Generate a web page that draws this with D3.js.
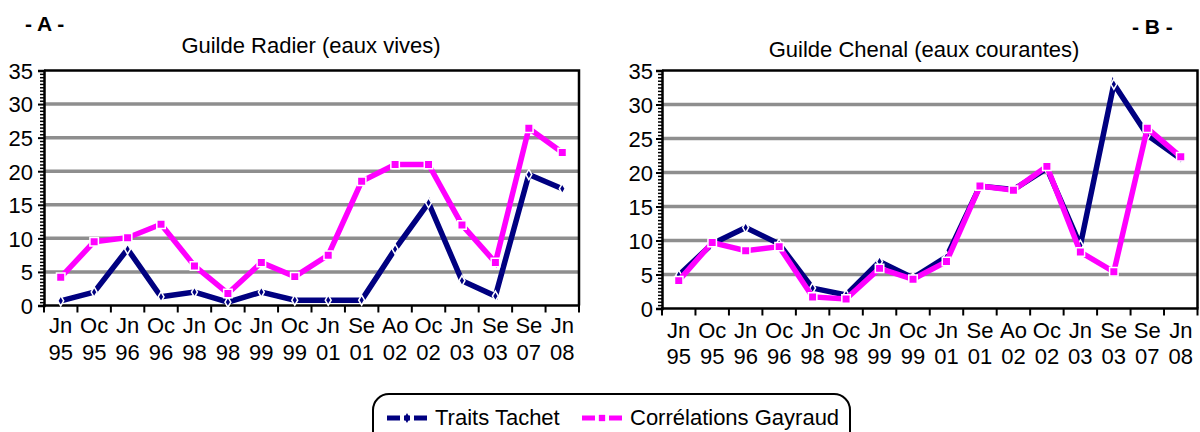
<!DOCTYPE html>
<html>
<head>
<meta charset="utf-8">
<script src="https://cdn.jsdelivr.net/npm/d3@7"></script>
<style>
  body { margin: 0; background: #fff; }
  svg text { font-family: "Liberation Sans", Arial, sans-serif; fill: #000; }
</style>
</head>
<body>
<div id="chart"></div>
<script>
// sampling dates (two-line labels: month / year)
const categories = ["Jn 95", "Oc 95", "Jn 96", "Oc 96", "Jn 98", "Oc 98", "Jn 99", "Oc 99",
                    "Jn 01", "Se 01", "Ao 02", "Oc 02", "Jn 03", "Se 03", "Se 07", "Jn 08"];

// panel A - Guilde Radier
const radierTachet  = [0.7, 2.0, 8.4, 1.3, 2.0, 0.5, 2.0, 0.8, 0.8, 0.8, 8.4, 15.3, 3.7, 1.4, 19.5, 17.4];
const radierGayraud = [4.2, 9.5, 10.1, 12.1, 5.9, 1.8, 6.4, 4.3, 7.5, 18.5, 21.0, 21.0, 12.0, 6.4, 26.4, 22.8];

// panel B - Guilde Chenal
const chenalTachet  = [4.9, 9.5, 11.9, 9.5, 3.0, 2.0, 6.9, 4.5, 7.6, 18.0, 17.5, 20.6, 9.3, 33.0, 25.5, 22.0];
const chenalGayraud = [4.1, 9.7, 8.5, 9.1, 1.7, 1.4, 5.9, 4.3, 6.9, 18.0, 17.4, 20.9, 8.3, 5.4, 26.5, 22.3];

const yTicks = [0, 5, 10, 15, 20, 25, 30, 35];
const seriesNames = ["Traits Tachet", "Corrélations Gayraud"];

const navy = "#000080";
const pink = "#ff00ff";

const svg = d3.select("#chart").append("svg")
    .attr("width", 1200)
    .attr("height", 432);

function drawPanel(cfg) {
    const x = d3.scaleBand().domain(categories).range([cfg.left, cfg.right]);
    const y = d3.scaleLinear().domain([0, 35]).range([cfg.bottom, cfg.top]);

    const g = svg.append("g");

    // gridlines
    g.selectAll(".grid")
        .data(yTicks.filter(d => d > 0 && d < 35))
        .enter()
        .append("line")
        .attr("x1", cfg.left).attr("x2", cfg.right)
        .attr("y1", d => y(d)).attr("y2", d => y(d))
        .attr("stroke", "#8e8e8e")
        .attr("stroke-width", 3.5);

    // frame top + right
    g.append("path")
        .attr("d", `M${cfg.left},${cfg.top}H${cfg.right}V${cfg.bottom}`)
        .attr("fill", "none")
        .attr("stroke", "#000")
        .attr("stroke-width", 2.5);

    // y axis with minor ticks
    const minor = d3.range(0, 35.01, 0.5).filter(d => d % 5 !== 0);
    g.append("g")
        .attr("transform", `translate(${cfg.left},0)`)
        .call(d3.axisLeft(y).tickValues(minor).tickSize(4).tickFormat(""))
        .call(a => a.select(".domain").remove())
        .selectAll("line").attr("stroke-width", 1.5);

    const yAxis = g.append("g")
        .attr("transform", `translate(${cfg.left},0)`)
        .call(d3.axisLeft(y).tickValues(yTicks).tickSize(6).tickPadding(cfg.labelPad));
    yAxis.select(".domain").attr("stroke-width", 2.5);
    yAxis.selectAll("line").attr("stroke-width", 2);
    yAxis.selectAll("text")
        .style("font-size", "22px")
        .attr("dy", "0.36em");

    // x axis
    const edges = categories.map(c => x(c)).concat([cfg.right]);
    g.append("line")
        .attr("x1", cfg.left - 1).attr("x2", cfg.right + 1)
        .attr("y1", cfg.bottom).attr("y2", cfg.bottom)
        .attr("stroke", "#000").attr("stroke-width", 2.5);
    g.selectAll(".xtick")
        .data(edges)
        .enter()
        .append("line")
        .attr("x1", d => d).attr("x2", d => d)
        .attr("y1", cfg.bottom).attr("y2", cfg.bottom + 7)
        .attr("stroke", "#000").attr("stroke-width", 2);

    const lab = g.selectAll(".xlab")
        .data(categories)
        .enter()
        .append("text")
        .attr("text-anchor", "middle")
        .style("font-size", "22px");
    lab.append("tspan")
        .attr("x", d => x(d) + x.bandwidth() / 2)
        .attr("y", cfg.bottom + cfg.lab1)
        .text(d => d.split(" ")[0]);
    lab.append("tspan")
        .attr("x", d => x(d) + x.bandwidth() / 2)
        .attr("y", cfg.bottom + cfg.lab2)
        .text(d => d.split(" ")[1]);

    // title
    svg.append("text")
        .attr("x", cfg.titleX)
        .attr("y", cfg.titleY)
        .attr("text-anchor", "middle")
        .style("font-size", "22px")
        .text(cfg.title);

    // panel letter
    svg.append("text")
        .attr("x", cfg.letterX)
        .attr("y", cfg.letterY)
        .style("font-size", "21px")
        .style("font-weight", "bold")
        .text(cfg.letter);

    const line = d3.line()
        .x((d, i) => x(categories[i]) + x.bandwidth() / 2)
        .y(d => y(d));

    // Traits Tachet
    g.append("path")
        .datum(cfg.tachet)
        .attr("d", line)
        .attr("fill", "none")
        .attr("stroke", navy)
        .attr("stroke-width", 5.5);
    g.selectAll(".mk1")
        .data(cfg.tachet)
        .enter()
        .append("path")
        .attr("d", d3.symbol(d3.symbolDiamond, 30))
        .attr("transform", (d, i) => `translate(${x(categories[i]) + x.bandwidth() / 2},${y(d)})`)
        .attr("fill", navy)
        .attr("stroke", "#fff")
        .attr("stroke-width", 1.5);

    // Corrélations Gayraud
    g.append("path")
        .datum(cfg.gayraud)
        .attr("d", line)
        .attr("fill", "none")
        .attr("stroke", pink)
        .attr("stroke-width", 5.5);
    g.selectAll(".mk2")
        .data(cfg.gayraud)
        .enter()
        .append("path")
        .attr("d", d3.symbol(d3.symbolSquare, 72))
        .attr("transform", (d, i) => `translate(${x(categories[i]) + x.bandwidth() / 2},${y(d)})`)
        .attr("fill", pink)
        .attr("stroke", "#fff")
        .attr("stroke-width", 1.5);
}

drawPanel({
    left: 44, right: 579, top: 70.5, bottom: 305.5,
    labelPad: 5, lab1: 27, lab2: 54,
    title: "Guilde Radier (eaux vives)", titleX: 311, titleY: 53,
    letter: "- A -", letterX: 25, letterY: 31,
    tachet: radierTachet, gayraud: radierGayraud
});

drawPanel({
    left: 662, right: 1197.5, top: 70.5, bottom: 308.5,
    labelPad: 3, lab1: 29, lab2: 55,
    title: "Guilde Chenal (eaux courantes)", titleX: 924, titleY: 57,
    letter: "- B -", letterX: 1132, letterY: 34,
    tachet: chenalTachet, gayraud: chenalGayraud
});

// legend
const legend = svg.append("g");
legend.append("rect")
    .attr("x", 373).attr("y", 394)
    .attr("width", 477).attr("height", 56)
    .attr("rx", 16).attr("ry", 16)
    .attr("fill", "#fff")
    .attr("stroke", "#000")
    .attr("stroke-width", 2);

const legendItems = [
    { name: seriesNames[0], color: navy, symbol: d3.symbolDiamond, size: 30, x: 387 },
    { name: seriesNames[1], color: pink, symbol: d3.symbolSquare, size: 40, x: 582 }
];
legendItems.forEach(it => {
    legend.append("line")
        .attr("x1", it.x).attr("x2", it.x + 40)
        .attr("y1", 418).attr("y2", 418)
        .attr("stroke", it.color)
        .attr("stroke-width", 5)
        .attr("stroke-dasharray", "13,4,6,4,13");
    legend.append("path")
        .attr("d", d3.symbol(it.symbol, it.size))
        .attr("transform", `translate(${it.x + 20},418)`)
        .attr("fill", it.color);
    legend.append("text")
        .attr("x", it.x + 48)
        .attr("y", 425)
        .style("font-size", "22px")
        .text(it.name);
});
</script>
</body>
</html>
